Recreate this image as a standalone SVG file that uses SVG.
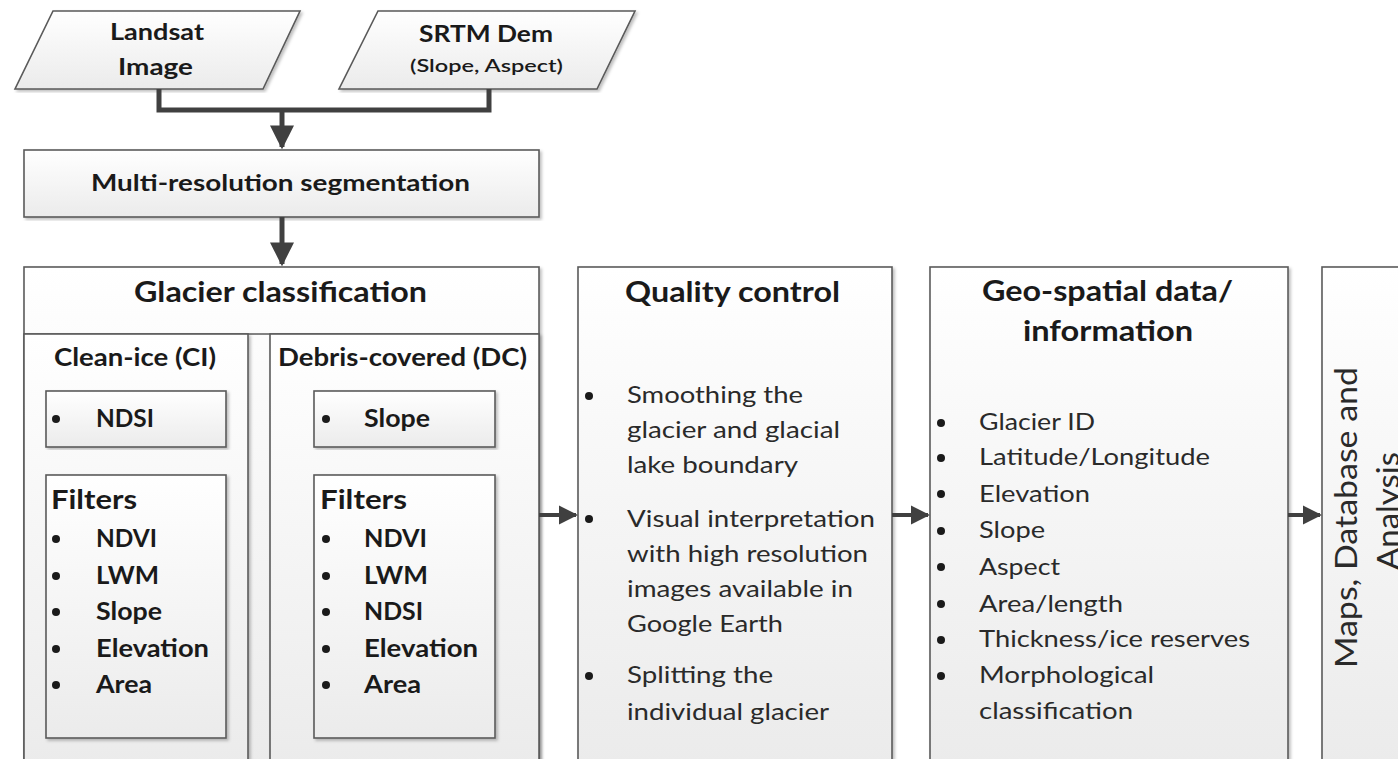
<svg xmlns="http://www.w3.org/2000/svg" width="1398" height="759" viewBox="0 0 1398 759">
<defs>
<linearGradient id="g" x1="0" y1="0" x2="0" y2="1">
<stop offset="0" stop-color="#ffffff"/>
<stop offset="1" stop-color="#ebebeb"/>
</linearGradient>
<filter id="sh" x="-5%" y="-5%" width="110%" height="110%">
<feDropShadow dx="2" dy="2" stdDeviation="1.5" flood-color="#000" flood-opacity="0.25"/>
</filter>
<marker id="ah" viewBox="0 0 10 10" refX="9" refY="5" markerWidth="4.8" markerHeight="4.8" orient="auto" markerUnits="strokeWidth">
<path d="M0,0 L10,5 L0,10 z" fill="#404040"/>
</marker>
</defs>
<style>
.bx{fill:url(#g);stroke:#5a5a5a;stroke-width:1.6;filter:url(#sh)}
.t{font-family:Lato,"Open Sans",sans-serif;fill:#1a1a1a}
.r{fill:#2a2a2a}
.b{font-weight:bold}
.con{fill:none;stroke:#404040;stroke-width:5}
.arr{fill:none;stroke:#404040;stroke-width:4}
</style>
<rect width="1398" height="759" fill="#fff"/>

<g id="landsat">
<polygon class="bx" points="53,11 300,11 263,89 15,89"/>
<text class="t b" x="110" y="40" font-size="22" textLength="94" lengthAdjust="spacingAndGlyphs">Landsat</text>
<text class="t b" x="118" y="75" font-size="22" textLength="75" lengthAdjust="spacingAndGlyphs">Image</text>
</g>
<g id="srtm">
<polygon class="bx" points="378,11 635,11 597,89 339,89"/>
<text class="t b" x="419" y="42" font-size="22" textLength="134" lengthAdjust="spacingAndGlyphs">SRTM Dem</text>
<text class="t" x="410" y="72" font-size="17" textLength="153" lengthAdjust="spacingAndGlyphs" font-weight="600">(Slope, Aspect)</text>
</g>
<g id="segmentation">
<rect class="bx" x="24" y="150" width="515" height="67"/>
<text class="t b" x="91" y="191" font-size="23" textLength="379" lengthAdjust="spacingAndGlyphs">Multi-resolution segmentation</text>
</g>

<g id="glacier-classification">
<rect class="bx" x="24" y="267" width="515" height="500"/>
<text class="t b" x="134" y="302" font-size="28" textLength="293" lengthAdjust="spacingAndGlyphs">Glacier classification</text>
<line x1="24" y1="334" x2="539" y2="334" stroke="#5a5a5a" stroke-width="1.6"/>
</g>
<g id="clean-ice">
<rect class="bx" x="24" y="334" width="224" height="433"/>
<text class="t b" x="54" y="366" font-size="24" textLength="162" lengthAdjust="spacingAndGlyphs">Clean-ice (CI)</text>
</g>
<g id="ci-ndsi">
<rect class="bx" x="46" y="391" width="180" height="56"/>
<circle cx="56" cy="419" r="4" fill="#1a1a1a"/>
<text class="t b" x="96" y="427" font-size="25" textLength="58" lengthAdjust="spacingAndGlyphs">NDSI</text>
</g>
<g id="ci-filters">
<rect class="bx" x="46" y="475" width="180" height="263"/>
<text class="t b" x="51" y="509" font-size="27" textLength="86" lengthAdjust="spacingAndGlyphs">Filters</text>
<g fill="#1a1a1a"><circle cx="56" cy="539" r="4"/><circle cx="56" cy="576" r="4"/><circle cx="56" cy="612" r="4"/><circle cx="56" cy="649" r="4"/><circle cx="56" cy="685" r="4"/></g>
<text class="t b" x="96" y="547" font-size="25" textLength="61" lengthAdjust="spacingAndGlyphs">NDVI</text>
<text class="t b" x="96" y="584" font-size="25" textLength="63" lengthAdjust="spacingAndGlyphs">LWM</text>
<text class="t b" x="96" y="620" font-size="25" textLength="66" lengthAdjust="spacingAndGlyphs">Slope</text>
<text class="t b" x="96" y="657" font-size="25" textLength="113" lengthAdjust="spacingAndGlyphs">Elevation</text>
<text class="t b" x="96" y="693" font-size="25" textLength="56" lengthAdjust="spacingAndGlyphs">Area</text>
</g>
<g id="debris-covered">
<rect class="bx" x="270" y="334" width="269" height="433"/>
<text class="t b" x="278" y="366" font-size="24" textLength="249" lengthAdjust="spacingAndGlyphs">Debris-covered (DC)</text>
</g>
<g id="dc-slope">
<rect class="bx" x="314" y="391" width="181" height="56"/>
<circle cx="326" cy="419" r="4" fill="#1a1a1a"/>
<text class="t b" x="364" y="427" font-size="25" textLength="66" lengthAdjust="spacingAndGlyphs">Slope</text>
</g>
<g id="dc-filters">
<rect class="bx" x="314" y="475" width="181" height="263"/>
<text class="t b" x="320" y="509" font-size="27" textLength="87" lengthAdjust="spacingAndGlyphs">Filters</text>
<g fill="#1a1a1a"><circle cx="326" cy="539" r="4"/><circle cx="326" cy="576" r="4"/><circle cx="326" cy="612" r="4"/><circle cx="326" cy="649" r="4"/><circle cx="326" cy="685" r="4"/></g>
<text class="t b" x="364" y="547" font-size="25" textLength="63" lengthAdjust="spacingAndGlyphs">NDVI</text>
<text class="t b" x="364" y="584" font-size="25" textLength="64" lengthAdjust="spacingAndGlyphs">LWM</text>
<text class="t b" x="364" y="620" font-size="25" textLength="59" lengthAdjust="spacingAndGlyphs">NDSI</text>
<text class="t b" x="364" y="657" font-size="25" textLength="114" lengthAdjust="spacingAndGlyphs">Elevation</text>
<text class="t b" x="364" y="693" font-size="25" textLength="57" lengthAdjust="spacingAndGlyphs">Area</text>
</g>

<g id="quality-control">
<rect class="bx" x="578" y="267" width="314" height="500"/>
<text class="t b" x="625" y="302" font-size="28" textLength="215" lengthAdjust="spacingAndGlyphs">Quality control</text>
<g fill="#1a1a1a"><circle cx="589" cy="396" r="4"/><circle cx="589" cy="519" r="4"/><circle cx="589" cy="676" r="4"/></g>
<g class="t r" font-size="23" lengthAdjust="spacingAndGlyphs">
<text x="627" y="403" textLength="176" lengthAdjust="spacingAndGlyphs">Smoothing the</text>
<text x="627" y="438" textLength="213" lengthAdjust="spacingAndGlyphs">glacier and glacial</text>
<text x="627" y="473" textLength="171" lengthAdjust="spacingAndGlyphs">lake boundary</text>
<text x="627" y="527" textLength="248" lengthAdjust="spacingAndGlyphs">Visual interpretation</text>
<text x="627" y="562" textLength="241" lengthAdjust="spacingAndGlyphs">with high resolution</text>
<text x="627" y="597" textLength="226" lengthAdjust="spacingAndGlyphs">images available in</text>
<text x="627" y="632" textLength="156" lengthAdjust="spacingAndGlyphs">Google Earth</text>
<text x="627" y="683" textLength="146" lengthAdjust="spacingAndGlyphs">Splitting the</text>
<text x="627" y="720" textLength="202" lengthAdjust="spacingAndGlyphs">individual glacier</text>
</g>
</g>

<g id="geo-spatial">
<rect class="bx" x="930" y="267" width="358" height="500"/>
<text class="t b" x="982" y="301" font-size="28" textLength="251" lengthAdjust="spacingAndGlyphs">Geo-spatial data/</text>
<text class="t b" x="1023" y="341" font-size="28" textLength="170" lengthAdjust="spacingAndGlyphs">information</text>
<g fill="#1a1a1a"><circle cx="941" cy="423" r="4"/><circle cx="941" cy="458" r="4"/><circle cx="941" cy="494" r="4"/><circle cx="941" cy="531" r="4"/><circle cx="941" cy="567" r="4"/><circle cx="941" cy="604" r="4"/><circle cx="941" cy="640" r="4"/><circle cx="941" cy="676" r="4"/></g>
<g class="t r" font-size="24">
<text x="979" y="430" textLength="116" lengthAdjust="spacingAndGlyphs">Glacier ID</text>
<text x="979" y="465" textLength="231" lengthAdjust="spacingAndGlyphs">Latitude/Longitude</text>
<text x="979" y="502" textLength="111" lengthAdjust="spacingAndGlyphs">Elevation</text>
<text x="979" y="538" textLength="66" lengthAdjust="spacingAndGlyphs">Slope</text>
<text x="979" y="575" textLength="81" lengthAdjust="spacingAndGlyphs">Aspect</text>
<text x="979" y="612" textLength="144" lengthAdjust="spacingAndGlyphs">Area/length</text>
<text x="979" y="647" textLength="271" lengthAdjust="spacingAndGlyphs">Thickness/ice reserves</text>
<text x="979" y="683" textLength="175" lengthAdjust="spacingAndGlyphs">Morphological</text>
<text x="979" y="719" textLength="154" lengthAdjust="spacingAndGlyphs">classification</text>
</g>
</g>

<g id="maps">
<rect class="bx" x="1322" y="267" width="100" height="500"/>
<text class="t r" font-size="31" transform="translate(1357,668) rotate(-90)" textLength="301" lengthAdjust="spacingAndGlyphs">Maps, Database and</text>
<text class="t r" font-size="31" transform="translate(1399,570) rotate(-90)" textLength="118" lengthAdjust="spacingAndGlyphs">Analysis</text>
</g>

<g id="connectors">
<polyline class="con" points="159,89 159,110 489,110 489,89"/>
<line class="con" x1="282" y1="110" x2="282" y2="147" marker-end="url(#ah)"/>
<line class="con" x1="282" y1="217" x2="282" y2="264" marker-end="url(#ah)"/>
<line class="arr" x1="539" y1="515" x2="576" y2="515" marker-end="url(#ah)"/>
<line class="arr" x1="892" y1="515" x2="928" y2="515" marker-end="url(#ah)"/>
<line class="arr" x1="1288" y1="515" x2="1320" y2="515" marker-end="url(#ah)"/>
</g>
</svg>
